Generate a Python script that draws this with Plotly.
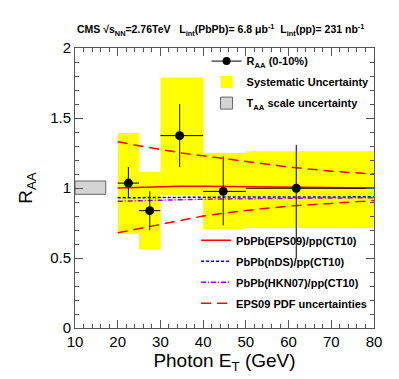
import plotly.graph_objects as go

# measured R_AA points (0-10%)
bin_lo = [20, 25, 30, 40, 50]
bin_hi = [25, 30, 40, 50, 80]
pt_x = [22.5, 27.5, 34.5, 44.7, 61.8]
raa = [1.035, 0.838, 1.374, 0.976, 0.998]
stat_up = [0.115, 0.138, 0.226, 0.25, 0.31]
stat_dn = [0.105, 0.14, 0.226, 0.243, 0.50]
syst_hi = [1.393, 1.114, 1.79, 1.25, 1.262]
syst_lo = [0.674, 0.56, 0.948, 0.707, 0.714]

# T_AA scale uncertainty box
taa_x = [10, 17.2]
taa_y = [0.955, 1.05]

# theory curves
th_x = [20, 25, 30, 35, 40, 45, 50, 60, 70, 80]
eps09 = [1.0, 1.005, 1.01, 1.013, 1.013, 1.012, 1.01, 1.007, 1.004, 1.0]
eps09_up = [1.33, 1.30, 1.275, 1.25, 1.23, 1.205, 1.185, 1.15, 1.12, 1.10]
eps09_dn = [0.68, 0.71, 0.745, 0.775, 0.80, 0.82, 0.84, 0.87, 0.89, 0.91]
nds = [0.93, 0.932, 0.933, 0.934, 0.935, 0.935, 0.935, 0.936, 0.937, 0.937]
hkn07 = [0.905, 0.91, 0.915, 0.918, 0.92, 0.922, 0.924, 0.927, 0.929, 0.93]

FONT = "Liberation Sans, Arial, Helvetica, sans-serif"
LEG_FONT = dict(family=FONT, size=11, color="black", weight="bold")

fig = go.Figure()

# yellow systematic boxes
fig.add_trace(go.Bar(
    x=[(a + b) / 2 for a, b in zip(bin_lo, bin_hi)],
    y=[h - l for h, l in zip(syst_hi, syst_lo)],
    base=syst_lo,
    width=[b - a for a, b in zip(bin_lo, bin_hi)],
    marker=dict(color="#ffff00", line=dict(width=0)),
    name="Systematic Uncertainty", legend="legend", legendgroup="b", legendrank=2,
))

# T_AA box
fig.add_trace(go.Bar(
    x=[(taa_x[0] + taa_x[1]) / 2],
    y=[taa_y[1] - taa_y[0]],
    base=[taa_y[0]],
    width=[taa_x[1] - taa_x[0]],
    marker=dict(color="#d4d4d4", line=dict(color="#666666", width=1)),
    name="T<sub>AA</sub> scale uncertainty", legend="legend", legendgroup="c", legendrank=3,
))

# theory
fig.add_trace(go.Scatter(x=th_x, y=eps09, mode="lines",
                         line=dict(color="#ff0000", width=1.5),
                         name="PbPb(EPS09)/pp(CT10)", legend="legend2", legendgroup="d",
                         legendrank=4))
fig.add_trace(go.Scatter(x=th_x, y=nds, mode="lines",
                         line=dict(color="#0000ff", width=1.5, dash="3px,2px"),
                         name="PbPb(nDS)/pp(CT10)", legend="legend2", legendgroup="e",
                         legendrank=5))
fig.add_trace(go.Scatter(x=th_x, y=hkn07, mode="lines",
                         line=dict(color="#9900ff", width=1.5, dash="5px,2px,1px,2px"),
                         name="PbPb(HKN07)/pp(CT10)", legend="legend2", legendgroup="f",
                         legendrank=6))
fig.add_trace(go.Scatter(x=th_x, y=eps09_up, mode="lines",
                         line=dict(color="#ff0000", width=1.5, dash="10px,6px"),
                         name="EPS09 PDF uncertainties", legend="legend2", legendgroup="g",
                         legendrank=7))
fig.add_trace(go.Scatter(x=th_x, y=eps09_dn, mode="lines",
                         line=dict(color="#ff0000", width=1.5, dash="10px,6px"),
                         showlegend=False, legendgroup="g"))

# data points
fig.add_trace(go.Scatter(
    x=pt_x, y=raa, mode="markers",
    marker=dict(color="black", size=9),
    error_y=dict(type="data", symmetric=False, array=stat_up, arrayminus=stat_dn,
                 color="black", thickness=1, width=0),
    error_x=dict(type="data", symmetric=False,
                 array=[h - x for h, x in zip(bin_hi, pt_x)],
                 arrayminus=[x - l for x, l in zip(pt_x, bin_lo)],
                 color="black", thickness=1, width=0),
    showlegend=False,
))
# legend entry for the points
fig.add_trace(go.Scatter(
    x=[None], y=[None], mode="lines+markers",
    marker=dict(color="black", size=8), line=dict(color="black", width=1),
    name="R<sub>AA</sub> (0-10%)", legend="legend", legendgroup="a", legendrank=1,
))

axis_common = dict(
    showline=True, linecolor="#555555", linewidth=1, mirror="allticks",
    ticks="inside", ticklen=8, tickcolor="#555555",
    showgrid=False, zeroline=False,
    tickfont=dict(family=FONT, size=15, color="black"),
)

fig.update_layout(
    width=399, height=379,
    margin=dict(l=67, r=33, t=40, b=59),
    plot_bgcolor="white", paper_bgcolor="white",
    barmode="overlay",
    xaxis=dict(range=[10, 80], dtick=10, tick0=10,
               minor=dict(dtick=2, ticks="inside", ticklen=4, tickcolor="#555555"),
               title=dict(text="Photon E<sub>T</sub> (GeV)",
                          font=dict(family=FONT, size=19, color="black"), standoff=0),
               **axis_common),
    yaxis=dict(range=[0, 2], dtick=0.5,
               minor=dict(dtick=0.1, ticks="inside", ticklen=4, tickcolor="#555555"),
               title=dict(text="R<sub>AA</sub>",
                          font=dict(family=FONT, size=19, color="black"), standoff=12),
               **axis_common),
    legend=dict(x=0.44, y=1.005, xanchor="left", yanchor="top",
                bgcolor="rgba(0,0,0,0)", tracegroupgap=2,
                font=LEG_FONT, traceorder="grouped"),
    legend2=dict(x=0.405, y=0.365, xanchor="left", yanchor="top",
                 bgcolor="rgba(0,0,0,0)", tracegroupgap=2,
                 font=LEG_FONT, traceorder="grouped"),
    annotations=[dict(
        text="CMS √s<sub>NN</sub>=2.76TeV   L<sub>int</sub>(PbPb)= 6.8 μb<sup>-1</sup>  "
             "L<sub>int</sub>(pp)= 231 nb<sup>-1</sup>",
        xref="paper", yref="paper", x=0, y=1.03, xanchor="left", yanchor="bottom",
        showarrow=False, font=dict(family=FONT, size=10.5, color="black", weight="bold"),
    )],
)

fig.write_html("out.html")
